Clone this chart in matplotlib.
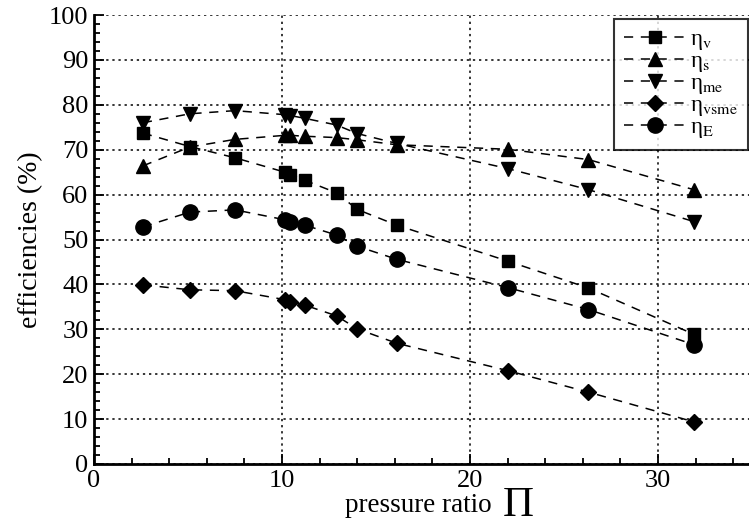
import numpy as np
import matplotlib.pyplot as plt
from matplotlib.ticker import MultipleLocator

plt.rcParams['font.family'] = ['Liberation Serif', 'DejaVu Serif']
plt.rcParams['mathtext.fontset'] = 'stix'

# pressure ratio values
pi_ratio = [2.6, 5.1, 7.5, 10.15, 10.45, 11.2, 12.9, 14.0, 16.1, 22.0, 26.3, 31.9]

# efficiencies in %
eta_v = [73.7, 70.7, 68.2, 65.0, 64.4, 63.2, 60.4, 56.7, 53.2, 45.2, 39.2, 28.9]
eta_s = [66.4, 70.6, 72.3, 73.2, 73.2, 73.0, 72.7, 72.2, 71.1, 70.1, 67.8, 61.1]
eta_me = [76.0, 78.0, 78.7, 77.8, 77.6, 77.0, 75.5, 73.6, 71.4, 65.8, 61.1, 54.0]
eta_vsme = [39.9, 38.8, 38.6, 36.6, 36.1, 35.4, 33.0, 30.1, 26.9, 20.8, 16.0, 9.4]
eta_E = [52.8, 56.1, 56.6, 54.4, 54.0, 53.2, 51.0, 48.5, 45.6, 39.3, 34.4, 26.6]

series = [
    (eta_v, 's', 8.5, r'η$_\mathrm{v}$'),
    (eta_s, '^', 10, r'η$_\mathrm{s}$'),
    (eta_me, 'v', 10, r'η$_\mathrm{me}$'),
    (eta_vsme, 'D', 8.5, r'η$_\mathrm{vsme}$'),
    (eta_E, 'o', 11, r'η$_\mathrm{E}$'),
]

fig = plt.figure(figsize=(7.49, 5.27), dpi=100)
ax = fig.add_axes([94 / 749, 1 - 464 / 527, (752 - 94) / 749, (464 - 15) / 527])

for vals, mk, ms, lab in series:
    ax.plot(pi_ratio, vals, color='black', linestyle=(0, (6, 5)), linewidth=1.1,
            marker=mk, markersize=ms, markerfacecolor='black',
            markeredgecolor='black', label=lab, clip_on=False)

ax.set_xlim(0, 35)
ax.set_ylim(0, 100)
ax.xaxis.set_major_locator(MultipleLocator(10))
ax.xaxis.set_minor_locator(MultipleLocator(2))
ax.yaxis.set_major_locator(MultipleLocator(10))
ax.yaxis.set_minor_locator(MultipleLocator(2))
ax.tick_params(which='both', direction='in', top=False, right=False,
               width=1.3, labelsize=19, colors='black')
ax.tick_params(which='major', length=7, pad=4)
ax.tick_params(which='minor', length=4)
ax.grid(True, which='major', color='black', linestyle=(0, (1.5, 2.5)), linewidth=1.1)
ax.set_axisbelow(True)

for s in ['top', 'right']:
    ax.spines[s].set_visible(False)
for s in ['left', 'bottom']:
    ax.spines[s].set_linewidth(2)

ax.set_ylabel('efficiencies (%)', fontsize=20, labelpad=4)

# x label: text plus a large capital Pi
fig.text(345 / 749, 1 - 512 / 527, 'pressure ratio', fontsize=19.5,
         ha='left', va='baseline')
fig.text(503 / 749, 1 - 516 / 527, 'Π', fontsize=31,
         ha='left', va='baseline')

leg = ax.legend(loc='upper left', bbox_to_anchor=(614 / 749, 1 - 19 / 527),
                bbox_transform=fig.transFigure, fontsize=16.5, frameon=True,
                fancybox=False, edgecolor='black', handlelength=2.7,
                handletextpad=0.15, labelspacing=-0.05, borderpad=0.45,
                borderaxespad=0)
leg.get_frame().set_linewidth(1.5)

fig.savefig('out.png', dpi=100)
